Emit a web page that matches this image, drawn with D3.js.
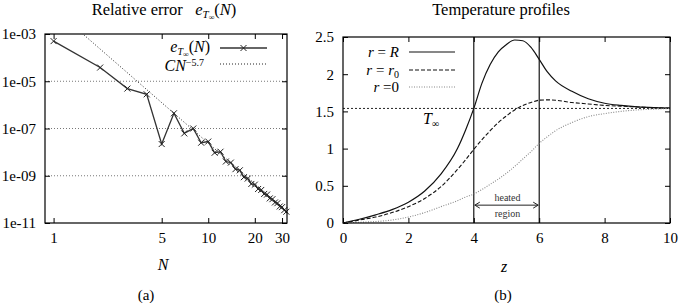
<!DOCTYPE html>
<html>
<head>
<meta charset="utf-8">
<script src="https://cdn.jsdelivr.net/npm/d3@7"></script>
<style>
  body { margin: 0; background: #fff; }
  svg { font-family: "Liberation Serif", "DejaVu Serif", serif; }
</style>
</head>
<body>
<div id="chart"></div>
<script>
// ---- data: relative error vs N (left panel)
let errN = [1, 2, 3, 4, 5, 6, 7, 8, 9, 10, 11, 12, 13, 14, 15, 16,
  17, 18, 19, 20, 21, 22, 23, 24, 25, 26, 27, 28, 29, 30, 31, 32];
let errVal = [5.0e-4, 3.8e-5, 4.9e-6, 2.8e-6, 2.2e-8, 4.4e-7, 6.2e-8, 1.0e-7,
  2.5e-8, 2.8e-8, 9.4e-9, 1.04e-8, 4.0e-9, 3.6e-9, 1.9e-9, 1.7e-9,
  8.7e-10, 7.6e-10, 4.5e-10, 4.2e-10, 2.75e-10, 2.5e-10, 1.7e-10, 1.6e-10,
  1.1e-10, 1.02e-10, 7.4e-11, 6.9e-11, 5.0e-11, 4.7e-11, 3.5e-11, 3.0e-11];
// fitted power law C*N^-5.7
let fitC = 1.2e-2;
let fitExp = 5.7;
let fitN = [1.2, 32];

let errXTicks = [1, 5, 10, 20, 30];
let errYTicks = [1e-3, 1e-5, 1e-7, 1e-9, 1e-11];
let errYLabels = ["1e-03", "1e-05", "1e-07", "1e-09", "1e-11"];
let errGrid = [1e-5, 1e-7, 1e-9];

// ---- data: temperature profiles (right panel)
let zVals = [0, 0.5, 1, 1.5, 2, 2.5, 3, 3.5, 3.75, 4, 4.25, 4.5, 4.75, 5, 5.25,
  5.5, 5.75, 6, 6.25, 6.5, 7, 7.5, 8, 8.5, 9, 9.5, 10];
let tSurface = [0, 0.05, 0.11, 0.18, 0.28, 0.43, 0.66, 1.0, 1.25, 1.54, 1.88,
  2.13, 2.30, 2.40, 2.46, 2.45, 2.36, 2.20, 2.03, 1.91, 1.77, 1.67, 1.61, 1.58,
  1.56, 1.55, 1.545];
let tR0 = [0, 0.04, 0.08, 0.14, 0.22, 0.33, 0.49, 0.72, 0.85, 0.99, 1.12,
  1.24, 1.35, 1.44, 1.52, 1.58, 1.62, 1.65, 1.655, 1.65, 1.62, 1.60, 1.58, 1.57,
  1.56, 1.55, 1.545];
let tAxis = [0, 0.01, 0.02, 0.04, 0.08, 0.14, 0.22, 0.30, 0.35, 0.39, 0.45,
  0.52, 0.59, 0.67, 0.76, 0.86, 0.96, 1.07, 1.16, 1.24, 1.35, 1.43, 1.47, 1.50,
  1.52, 1.53, 1.54];
let tInf = 1.54;
let heatedZone = [4, 6];

let tXTicks = [0, 2, 4, 6, 8, 10];
let tYTicks = [0, 0.5, 1, 1.5, 2, 2.5];

// ---- svg
let svgWidth = 680;
let svgHeight = 303;

let svg = d3.select("#chart")
  .append("svg")
  .attr("width", svgWidth)
  .attr("height", svgHeight);

let fontSize = 15;

// helper to write text with sub/superscripts
function richText(sel, parts) {
  parts.forEach(p => {
    let t = sel.append("tspan").text(p.t);
    if (p.i) t.attr("font-style", "italic");
    if (p.s) t.attr("font-size", p.s);
    if (p.dy) t.attr("dy", p.dy);
  });
  return sel;
}

// ================= left panel =================
let left = { x0: 45, x1: 287, y0: 34, y1: 223 };

let xLog = d3.scaleLog()
  .domain([0.88, 32.3])
  .range([left.x0, left.x1]);

let yLog = d3.scaleLog()
  .domain([1e-11, 1e-3])
  .range([left.y1, left.y0]);

let gL = svg.append("g");

// grid
gL.selectAll(".grid")
  .data(errGrid)
  .enter()
  .append("line")
  .attr("x1", left.x0)
  .attr("x2", left.x1)
  .attr("y1", d => yLog(d))
  .attr("y2", d => yLog(d))
  .attr("stroke", "#777")
  .attr("stroke-width", 1)
  .attr("stroke-dasharray", "1,2");

// axes (ticks drawn inward like gnuplot)
function styleAxis(g) {
  g.attr("font-family", "Liberation Serif, serif").attr("font-size", fontSize);
  g.select(".domain").remove();
  g.selectAll("line").attr("stroke", "#000");
  g.selectAll("text").attr("fill", "#000");
}

gL.append("g")
  .attr("transform", `translate(0, ${left.y1})`)
  .call(d3.axisBottom(xLog).tickValues(errXTicks).tickFormat(d3.format("d"))
    .tickSize(-5).tickPadding(9))
  .call(styleAxis);

gL.append("g")
  .attr("transform", `translate(0, ${left.y0})`)
  .call(d3.axisTop(xLog).tickValues(errXTicks).tickFormat("").tickSize(-5))
  .call(styleAxis);

gL.append("g")
  .attr("transform", `translate(${left.x0}, 0)`)
  .call(d3.axisLeft(yLog).tickValues(errYTicks)
    .tickFormat((d, i) => errYLabels[i]).tickSize(-5).tickPadding(9))
  .call(styleAxis);

gL.append("g")
  .attr("transform", `translate(${left.x1}, 0)`)
  .call(d3.axisRight(yLog).tickValues(errYTicks).tickFormat("").tickSize(-5))
  .call(styleAxis);

// fit line
let fitLine = d3.line()
  .x(d => xLog(d))
  .y(d => yLog(fitC * Math.pow(d, -fitExp)));

let fitSamples = d3.range(0, 41).map(i => fitN[0] * Math.pow(fitN[1] / fitN[0], i / 40));

gL.append("clipPath")
  .attr("id", "clipL")
  .append("rect")
  .attr("x", left.x0)
  .attr("y", left.y0)
  .attr("width", left.x1 - left.x0)
  .attr("height", left.y1 - left.y0);

gL.append("path")
  .datum(fitSamples)
  .attr("clip-path", "url(#clipL)")
  .attr("d", fitLine)
  .attr("fill", "none")
  .attr("stroke", "#222")
  .attr("stroke-width", 1)
  .attr("stroke-dasharray", "1,2");

// error data
let errData = errN.map((n, i) => ({ n: n, v: errVal[i] }));

gL.append("path")
  .datum(errData)
  .attr("d", d3.line().x(d => xLog(d.n)).y(d => yLog(d.v)))
  .attr("fill", "none")
  .attr("stroke", "#333")
  .attr("stroke-width", 1.3);

function cross(g, x, y, r) {
  g.append("path")
    .attr("d", `M${x - r},${y - r}L${x + r},${y + r}M${x - r},${y + r}L${x + r},${y - r}`)
    .attr("stroke", "#222")
    .attr("stroke-width", 1);
}

errData.forEach(d => cross(gL, xLog(d.n), yLog(d.v), 3));

// frame
gL.append("rect")
  .attr("x", left.x0)
  .attr("y", left.y0)
  .attr("width", left.x1 - left.x0)
  .attr("height", left.y1 - left.y0)
  .attr("fill", "none")
  .attr("stroke", "#000")
  .attr("stroke-width", 1.2);

// legend
let legL = gL.append("g").style("font-size", "16px");
richText(legL.append("text").attr("x", 210).attr("y", 52).attr("text-anchor", "end"), [
  { t: "e", i: true },
  { t: "T", i: true, s: 10, dy: 3 },
  { t: "∞", s: 8, dy: 1.5 },
  { t: "(", dy: -4.5 },
  { t: "N", i: true },
  { t: ")" }
]);
legL.append("line")
  .attr("x1", 220).attr("x2", 267).attr("y1", 48).attr("y2", 48)
  .attr("stroke", "#333").attr("stroke-width", 1.3);
cross(legL, 243.5, 48, 3);

richText(legL.append("text").attr("x", 204).attr("y", 71).attr("text-anchor", "end"), [
  { t: "CN", i: true },
  { t: "−5.7", s: 10, dy: -5 }
]);
legL.append("line")
  .attr("x1", 220).attr("x2", 267).attr("y1", 64).attr("y2", 64)
  .attr("stroke", "#222").attr("stroke-width", 1)
  .attr("stroke-dasharray", "1,2");

// titles and labels
richText(svg.append("text").attr("x", 164).attr("y", 15).attr("text-anchor", "middle")
  .style("font-size", "16.5px"), [
  { t: "Relative error\u00a0\u00a0\u00a0" },
  { t: "e", i: true },
  { t: "T", i: true, s: 11, dy: 3 },
  { t: "∞", s: 8, dy: 2 },
  { t: "(", dy: -5 },
  { t: "N", i: true },
  { t: ")" }
]);

svg.append("text")
  .attr("x", 163).attr("y", 270)
  .attr("text-anchor", "middle")
  .style("font-size", "16px")
  .style("font-style", "italic")
  .text("N");

svg.append("text")
  .attr("x", 146).attr("y", 300)
  .attr("text-anchor", "middle")
  .style("font-size", "15px")
  .text("(a)");

// ================= right panel =================
let right = { x0: 343, x1: 670, y0: 37, y1: 223 };

let xLin = d3.scaleLinear()
  .domain([0, 10])
  .range([right.x0, right.x1]);

let yLin = d3.scaleLinear()
  .domain([0, 2.5])
  .range([right.y1, right.y0]);

let gR = svg.append("g");

gR.append("g")
  .attr("transform", `translate(0, ${right.y1})`)
  .call(d3.axisBottom(xLin).tickValues(tXTicks).tickFormat(d3.format("d"))
    .tickSize(-5).tickPadding(9))
  .call(styleAxis);

gR.append("g")
  .attr("transform", `translate(0, ${right.y0})`)
  .call(d3.axisTop(xLin).tickValues(tXTicks).tickFormat("").tickSize(-5))
  .call(styleAxis);

gR.append("g")
  .attr("transform", `translate(${right.x0}, 0)`)
  .call(d3.axisLeft(yLin).tickValues(tYTicks).tickFormat(d3.format("")).tickSize(-5).tickPadding(9))
  .call(styleAxis);

gR.append("g")
  .attr("transform", `translate(${right.x1}, 0)`)
  .call(d3.axisRight(yLin).tickValues(tYTicks).tickFormat("").tickSize(-5))
  .call(styleAxis);

// T infinity line
gR.append("line")
  .attr("x1", right.x0).attr("x2", right.x1)
  .attr("y1", yLin(tInf)).attr("y2", yLin(tInf))
  .attr("stroke", "#222").attr("stroke-width", 1)
  .attr("stroke-dasharray", "2,2");

// heated region bounds
gR.selectAll(".zone")
  .data(heatedZone)
  .enter()
  .append("line")
  .attr("x1", d => xLin(d)).attr("x2", d => xLin(d))
  .attr("y1", right.y0).attr("y2", right.y1)
  .attr("stroke", "#000").attr("stroke-width", 1.1);

let profLine = d3.line()
  .x((d, i) => xLin(zVals[i]))
  .y(d => yLin(d))
  .curve(d3.curveMonotoneX);

let series = [
  { vals: tSurface, stroke: "#111", dash: null, w: 1.2 },
  { vals: tR0, stroke: "#111", dash: "4,2", w: 1.1 },
  { vals: tAxis, stroke: "#888", dash: "1,1.5", w: 1.1 }
];

series.forEach(s => {
  gR.append("path")
    .datum(s.vals)
    .attr("d", profLine)
    .attr("fill", "none")
    .attr("stroke", s.stroke)
    .attr("stroke-width", s.w)
    .attr("stroke-dasharray", s.dash);
});

// heated region arrow
let arrowY = yLin(0.24);
let ax0 = xLin(heatedZone[0]) + 1;
let ax1 = xLin(heatedZone[1]) - 1;
gR.append("path")
  .attr("d", `M${ax0},${arrowY}L${ax1},${arrowY}` +
    `M${ax0 + 5},${arrowY - 3}L${ax0},${arrowY}L${ax0 + 5},${arrowY + 3}` +
    `M${ax1 - 5},${arrowY - 3}L${ax1},${arrowY}L${ax1 - 5},${arrowY + 3}`)
  .attr("fill", "none")
  .attr("stroke", "#222")
  .attr("stroke-width", 1);

gR.append("text")
  .attr("x", (ax0 + ax1) / 2 + 1).attr("y", arrowY - 4)
  .attr("text-anchor", "middle")
  .style("font-size", "10px")
  .attr("fill", "#333")
  .text("heated");

gR.append("text")
  .attr("x", (ax0 + ax1) / 2 + 1).attr("y", arrowY + 12)
  .attr("text-anchor", "middle")
  .style("font-size", "10px")
  .attr("fill", "#333")
  .text("region");

// T infinity label
richText(gR.append("text").attr("x", 423).attr("y", 124).style("font-size", "16px"), [
  { t: "T", i: true },
  { t: "∞", s: 10, dy: 3 }
]);

// frame
gR.append("rect")
  .attr("x", right.x0)
  .attr("y", right.y0)
  .attr("width", right.x1 - right.x0)
  .attr("height", right.y1 - right.y0)
  .attr("fill", "none")
  .attr("stroke", "#000")
  .attr("stroke-width", 1.2);

// legend
let legR = gR.append("g").style("font-size", fontSize + "px");
let legRows = [
  { y: 52, parts: [{ t: "r", i: true }, { t: " = " }, { t: "R", i: true }] },
  { y: 70, parts: [{ t: "r", i: true }, { t: " = " }, { t: "r", i: true }, { t: "0", s: 10, dy: 3 }] },
  { y: 87, parts: [{ t: "r", i: true }, { t: " =0" }] }
];
legRows.forEach((row, i) => {
  richText(legR.append("text").attr("x", 399).attr("y", row.y + 5).attr("text-anchor", "end"), row.parts);
  legR.append("line")
    .attr("x1", 409).attr("x2", 455).attr("y1", row.y).attr("y2", row.y)
    .attr("stroke", series[i].stroke)
    .attr("stroke-width", series[i].w)
    .attr("stroke-dasharray", series[i].dash);
});

// titles and labels
svg.append("text")
  .attr("x", 501).attr("y", 15)
  .attr("text-anchor", "middle")
  .style("font-size", "16.5px")
  .text("Temperature profiles");

svg.append("text")
  .attr("x", 504).attr("y", 272)
  .attr("text-anchor", "middle")
  .style("font-size", "16px")
  .style("font-style", "italic")
  .text("z");

svg.append("text")
  .attr("x", 503).attr("y", 300)
  .attr("text-anchor", "middle")
  .style("font-size", "15px")
  .text("(b)");
</script>
</body>
</html>
